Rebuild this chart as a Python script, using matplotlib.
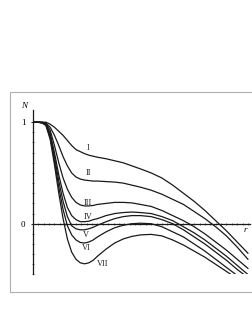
import numpy as np
import matplotlib
matplotlib.use('Agg')
import matplotlib.pyplot as plt
from matplotlib.patches import Rectangle

r = [0, 0.2, 0.4, 0.6, 0.8, 1.0, 1.2, 1.4, 1.6, 1.8, 2.0, 2.2, 2.4, 2.6, 2.8, 3.0,
     3.4, 3.8, 4.2, 4.6, 5.0, 5.5, 6, 6.5, 7, 7.5, 8, 8.5, 9, 9.5, 10]

curve_I = [1, 1, 1, 1.0, 0.98, 0.95, 0.91, 0.87, 0.82, 0.77, 0.73, 0.71, 0.69, 0.675, 0.665, 0.655,
           0.64, 0.62, 0.6, 0.57, 0.54, 0.5, 0.45, 0.38, 0.3, 0.22, 0.13, 0.03, -0.07, -0.18, -0.29]
curve_II = [1, 1, 1, 0.99, 0.95, 0.87, 0.77, 0.66, 0.57, 0.5, 0.46, 0.44, 0.43, 0.425, 0.42, 0.42,
            0.415, 0.41, 0.4, 0.38, 0.36, 0.33, 0.29, 0.24, 0.19, 0.12, 0.05, -0.03, -0.12, -0.23, -0.35]
curve_III = [1, 1, 1, 0.99, 0.92, 0.77, 0.6, 0.45, 0.34, 0.26, 0.21, 0.185, 0.175, 0.175, 0.18, 0.19,
             0.2, 0.21, 0.21, 0.205, 0.19, 0.17, 0.13, 0.08, 0.03, -0.03, -0.1, -0.18, -0.26, -0.35, -0.44]
curve_IV = [1, 1, 0.995, 0.98, 0.89, 0.7, 0.48, 0.3, 0.16, 0.08, 0.04, 0.02, 0.02, 0.025, 0.04, 0.05,
            0.08, 0.1, 0.11, 0.115, 0.11, 0.1, 0.07, 0.03, -0.03, -0.09, -0.16, -0.24, -0.32, -0.41, -0.5]
curve_V = [1, 1, 0.995, 0.98, 0.87, 0.66, 0.42, 0.22, 0.07, -0.02, -0.05, -0.06, -0.06, -0.05, -0.035, -0.015,
           0.02, 0.05, 0.07, 0.08, 0.08, 0.07, 0.04, 0.0, -0.06, -0.13, -0.2, -0.28, -0.36, -0.45, -0.53]
curve_VI = [1, 1, 0.995, 0.97, 0.85, 0.62, 0.36, 0.14, -0.02, -0.11, -0.16, -0.185, -0.19, -0.18, -0.16, -0.13,
            -0.08, -0.04, -0.015, 0.0, 0.005, 0.0, -0.03, -0.08, -0.13, -0.2, -0.27, -0.35, -0.43, -0.51, -0.59]
curve_VII = [1, 1, 0.995, 0.97, 0.83, 0.58, 0.3, 0.05, -0.15, -0.28, -0.35, -0.385, -0.395, -0.385, -0.36, -0.32,
             -0.25, -0.19, -0.15, -0.125, -0.11, -0.105, -0.12, -0.16, -0.21, -0.27, -0.33, -0.4, -0.47, -0.54, -0.61]

curves = [curve_I, curve_II, curve_III, curve_IV, curve_V, curve_VI, curve_VII]
names = ['I', 'II', 'III', 'IV', 'V', 'VI', 'VII']
label_pos = [(2.56, 0.75), (2.56, 0.5), (2.56, 0.2), (2.56, 0.07),
             (2.47, -0.11), (2.5, -0.24), (3.26, -0.40)]

plt.rcParams['font.family'] = ['Liberation Serif', 'DejaVu Serif']

fig = plt.figure(figsize=(2.53, 3.27), dpi=100)
fig.patches.append(Rectangle((0.0395, 0.107), 1.0, 0.612, transform=fig.transFigure,
                             fill=False, edgecolor='#b0b0b0', linewidth=0.8))

ax = fig.add_axes([0.1304, 0.1606, 0.858, 0.503])
for c in curves:
    ax.plot(r, c, color='#1a1a1a', linewidth=0.9, solid_joinstyle='round')

for name, (x, y) in zip(names, label_pos):
    ax.text(x, y, name, fontsize=6, ha='center', va='center', color='#222222')

ax.set_xlim(0, 10.1)
ax.set_ylim(-0.5, 1.12)

ax.spines['left'].set_position(('data', 0))
ax.spines['bottom'].set_position(('data', 0))
ax.spines['top'].set_visible(False)
ax.spines['right'].set_visible(False)
for s in ['left', 'bottom']:
    ax.spines[s].set_linewidth(0.9)
    ax.spines[s].set_color('#1a1a1a')

ax.set_yticks([0, 1])
ax.set_yticklabels(['0', '1'], fontsize=6.5)
ax.set_yticks(np.arange(-0.5, 1.1, 0.1), minor=True)
ax.set_xticks([])
ax.set_xticks(np.arange(0.25, 10.1, 0.25), minor=True)
ax.tick_params(axis='y', which='major', direction='inout', length=3, width=0.6, pad=4)
ax.tick_params(axis='y', which='minor', direction='inout', length=2, width=0.4)
ax.tick_params(axis='x', which='minor', direction='inout', length=1.5, width=0.4)

ax.text(-0.42, 1.16, 'N', fontsize=6.5, style='italic', ha='center', va='center')
ax.text(9.86, -0.06, 'r', fontsize=6.5, style='italic', ha='center', va='center')

fig.savefig('out.png', dpi=100)
